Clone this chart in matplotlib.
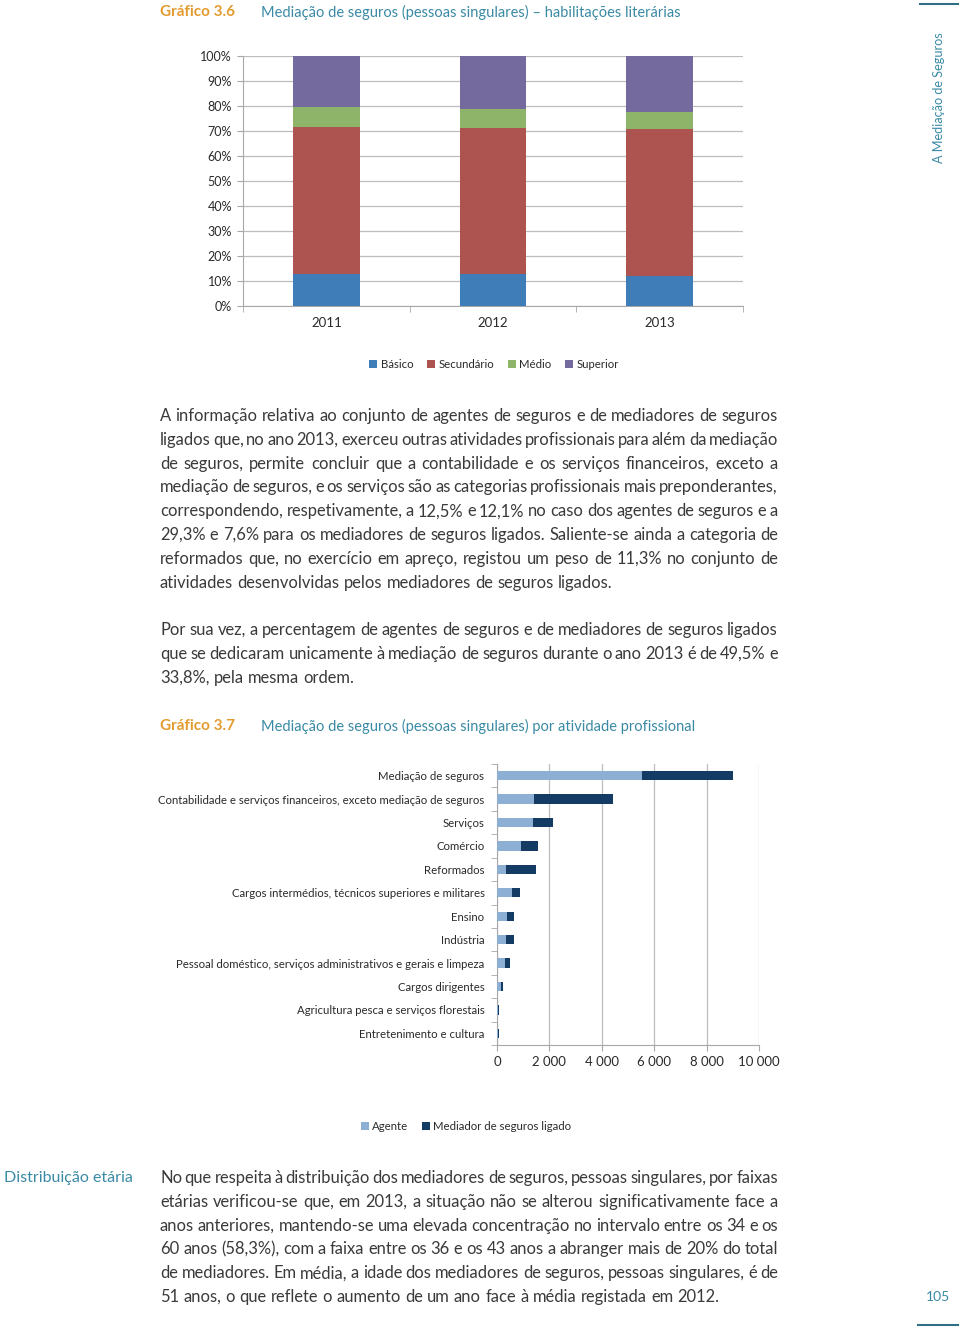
import matplotlib
matplotlib.use("Agg")
import matplotlib.pyplot as plt
from matplotlib.patches import Patch
from matplotlib.lines import Line2D
import numpy as np

plt.rcParams['font.family'] = ['Lato', 'DejaVu Sans']

# ---------------- data ----------------
years = ["2011", "2012", "2013"]
basico = [12.7, 12.7, 12.1]
secundario = [58.8, 58.4, 58.6]
medio = [8.2, 7.7, 7.0]
superior = [20.3, 21.2, 22.3]
edu_labels = ["Básico", "Secundário", "Médio", "Superior"]
pct_ticks = ["0%", "10%", "20%", "30%", "40%", "50%", "60%", "70%", "80%", "90%", "100%"]

activities = [
    "Mediação de seguros",
    "Contabilidade e serviços financeiros, exceto mediação de seguros",
    "Serviços",
    "Comércio",
    "Reformados",
    "Cargos intermédios, técnicos superiores e militares",
    "Ensino",
    "Indústria",
    "Pessoal doméstico, serviços administrativos e gerais e limpeza",
    "Cargos dirigentes",
    "Agricultura pesca e serviços florestais",
    "Entretenimento e cultura",
]
agente = [5540, 1430, 1380, 900, 335, 590, 400, 360, 300, 170, 40, 50]
mediador = [3480, 2990, 760, 670, 1140, 270, 260, 270, 200, 50, 50, 40]
act_legend = ["Agente", "Mediador de seguros ligado"]
x_ticks = [0, 2000, 4000, 6000, 8000, 10000]
x_ticklabels = ["0", "2 000", "4 000", "6 000", "8 000", "10 000"]

para1 = [
    "A informação relativa ao conjunto de agentes de seguros e de mediadores de seguros",
    "ligados que, no ano 2013, exerceu outras atividades profissionais para além da mediação",
    "de seguros, permite concluir que a contabilidade e os serviços financeiros, exceto a",
    "mediação de seguros, e os serviços são as categorias profissionais mais preponderantes,",
    "correspondendo, respetivamente, a 12,5% e 12,1% no caso dos agentes de seguros e a",
    "29,3% e 7,6% para os mediadores de seguros ligados. Saliente-se ainda a categoria de",
    "reformados que, no exercício em apreço, registou um peso de 11,3% no conjunto de",
    "atividades desenvolvidas pelos mediadores de seguros ligados.",
]
para2 = [
    "Por sua vez, a percentagem de agentes de seguros e de mediadores de seguros ligados",
    "que se dedicaram unicamente à mediação de seguros durante o ano 2013 é de 49,5% e",
    "33,8%, pela mesma ordem.",
]
para3 = [
    "No que respeita à distribuição dos mediadores de seguros, pessoas singulares, por faixas",
    "etárias verificou-se que, em 2013, a situação não se alterou significativamente face a",
    "anos anteriores, mantendo-se uma elevada concentração no intervalo entre os 34 e os",
    "60 anos (58,3%), com a faixa entre os 36 e os 43 anos a abranger mais de 20% do total",
    "de mediadores. Em média, a idade dos mediadores de seguros, pessoas singulares, é de",
    "51 anos, o que reflete o aumento de um ano face à média registada em 2012.",
]

# ---------------- styles ----------------
W, H = 960, 1333
TEAL = "#3A8AA5"
ORANGE = "#E39B2F"
BODY = "#3a3a3a"
DARK = "#2a2a2a"
edu_colors = ["#3E7DB8", "#AD5350", "#8EB46A", "#746A9E"]
act_colors = ["#8DAFD4", "#133B63"]
GRID = "#BDBDBD"
SPINE = "#A8A8A8"

fig = plt.figure(figsize=(W / 100, H / 100), dpi=100)
fig.patch.set_facecolor("white")


def fx(px):
    return px / W


def fy(py):
    return 1 - py / H


# ---------------- titles ----------------
fig.text(fx(160), fy(12), "Gráfico 3.6", color=ORANGE, fontsize=11, fontweight="bold", va="center")
fig.text(fx(261), fy(12), "Mediação de seguros (pessoas singulares) – habilitações literárias",
         color=TEAL, fontsize=10.5, va="center")
fig.text(fx(160), fy(726), "Gráfico 3.7", color=ORANGE, fontsize=11, fontweight="bold", va="center")
fig.text(fx(261), fy(726), "Mediação de seguros (pessoas singulares) por atividade profissional",
         color=TEAL, fontsize=10.5, va="center")

# side text and decorative lines
fig.text(fx(939), fy(98), "A Mediação de Seguros", color=TEAL, fontsize=9.1, rotation=90,
         va="center", ha="center")
fig.add_artist(Line2D([fx(920), fx(958)], [fy(4), fy(4)], color="#2F6F86", lw=1.5))
fig.add_artist(Line2D([fx(918), fx(958)], [fy(1325), fy(1325)], color="#2F6F86", lw=1.5))
fig.text(fx(938), fy(1297), "105", color=TEAL, fontsize=10, va="center", ha="center")
fig.text(fx(4), fy(1178), "Distribuição etária", color=TEAL, fontsize=11.5, va="center")

# ---------------- chart 1 ----------------
ax1 = fig.add_axes([fx(243), fy(306), fx(500), 250 / H])
x = np.arange(len(years))
bottom = np.zeros(len(years))
for vals, col, lab in zip([basico, secundario, medio, superior], edu_colors, edu_labels):
    ax1.bar(x, vals, bottom=bottom, width=0.4, color=col, label=lab, zorder=3)
    bottom += np.array(vals)
ax1.set_xlim(-0.5, 2.5)
ax1.set_ylim(0, 100)
ax1.set_yticks(np.arange(0, 101, 10))
ax1.set_yticklabels(pct_ticks)
ax1.set_xticks(x)
ax1.set_xticklabels(years)
ax1.set_xticks([-0.5, 0.5, 1.5, 2.5], minor=True)
ax1.tick_params(axis="x", which="major", length=0, pad=8, labelsize=9.5, labelcolor=DARK)
ax1.tick_params(axis="x", which="minor", length=4, color=SPINE)
ax1.tick_params(axis="y", length=4, color=SPINE, labelsize=9, labelcolor=DARK, pad=4)
ax1.grid(axis="y", color=GRID, lw=0.9, zorder=0)
for s in ["top", "right"]:
    ax1.spines[s].set_visible(False)
for s in ["left", "bottom"]:
    ax1.spines[s].set_color(SPINE)

handles1 = [Patch(facecolor=c, label=l) for c, l in zip(edu_colors, edu_labels)]
fig.legend(handles=handles1, loc="center", bbox_to_anchor=(fx(494), fy(364)), ncol=4,
           frameon=False, fontsize=8.2, handlelength=0.7, handleheight=0.7,
           handletextpad=0.3, columnspacing=1.2, labelcolor=DARK)

# ---------------- chart 2 ----------------
ax2 = fig.add_axes([fx(497), fy(1045), fx(262), 281 / H])
y = np.arange(len(activities))
ax2.barh(y, agente, height=0.4, color=act_colors[0], label=act_legend[0], zorder=3)
ax2.barh(y, mediador, left=agente, height=0.4, color=act_colors[1], label=act_legend[1], zorder=3)
ax2.set_ylim(len(activities) - 0.5, -0.5)
ax2.set_xlim(0, 10000)
ax2.set_yticks(y)
ax2.set_yticklabels(activities)
ax2.set_yticks(np.arange(-0.5, len(activities)), minor=True)
ax2.tick_params(axis="y", which="major", length=0, pad=9, labelsize=8.2, labelcolor=DARK)
ax2.tick_params(axis="y", which="minor", length=4, color=SPINE)
ax2.set_xticks(x_ticks)
ax2.set_xticklabels(x_ticklabels)
ax2.tick_params(axis="x", length=4, color=SPINE, labelsize=9.5, labelcolor=DARK, pad=4)
ax2.grid(axis="x", color=GRID, lw=0.9, zorder=0)
for s in ["top", "right"]:
    ax2.spines[s].set_visible(False)
for s in ["left", "bottom"]:
    ax2.spines[s].set_color(SPINE)

handles2 = [Patch(facecolor=c, label=l) for c, l in zip(act_colors, act_legend)]
fig.legend(handles=handles2, loc="center", bbox_to_anchor=(fx(466), fy(1126)), ncol=2,
           frameon=False, fontsize=8.2, handlelength=0.7, handleheight=0.7,
           handletextpad=0.3, columnspacing=1.2, labelcolor=DARK)

# ---------------- justified paragraphs ----------------
renderer = fig.canvas.get_renderer()
BODY_FS = 11.9
LEFT, RIGHT = 160, 778


def word_width(w):
    t = fig.text(0, 0, w, fontsize=BODY_FS)
    wd = t.get_window_extent(renderer).width
    t.remove()
    return wd


space_w = word_width("a a") - 2 * word_width("a")


def draw_para(lines, y0, dy):
    for i, line in enumerate(lines):
        yy = fy(y0 + i * dy)
        last = i == len(lines) - 1
        words = line.split(" ")
        widths = [word_width(w) for w in words]
        if last or len(words) < 2:
            gap = space_w
        else:
            gap = (RIGHT - LEFT - sum(widths)) / (len(words) - 1)
        xpos = LEFT
        for w, wd in zip(words, widths):
            fig.text(fx(xpos), yy, w, fontsize=BODY_FS, color=BODY, va="center")
            xpos += wd + gap


draw_para(para1, 416, 23.8)
draw_para(para2, 630, 23.8)
draw_para(para3, 1178, 23.8)

fig.savefig("out.png", dpi=100, facecolor="white")
